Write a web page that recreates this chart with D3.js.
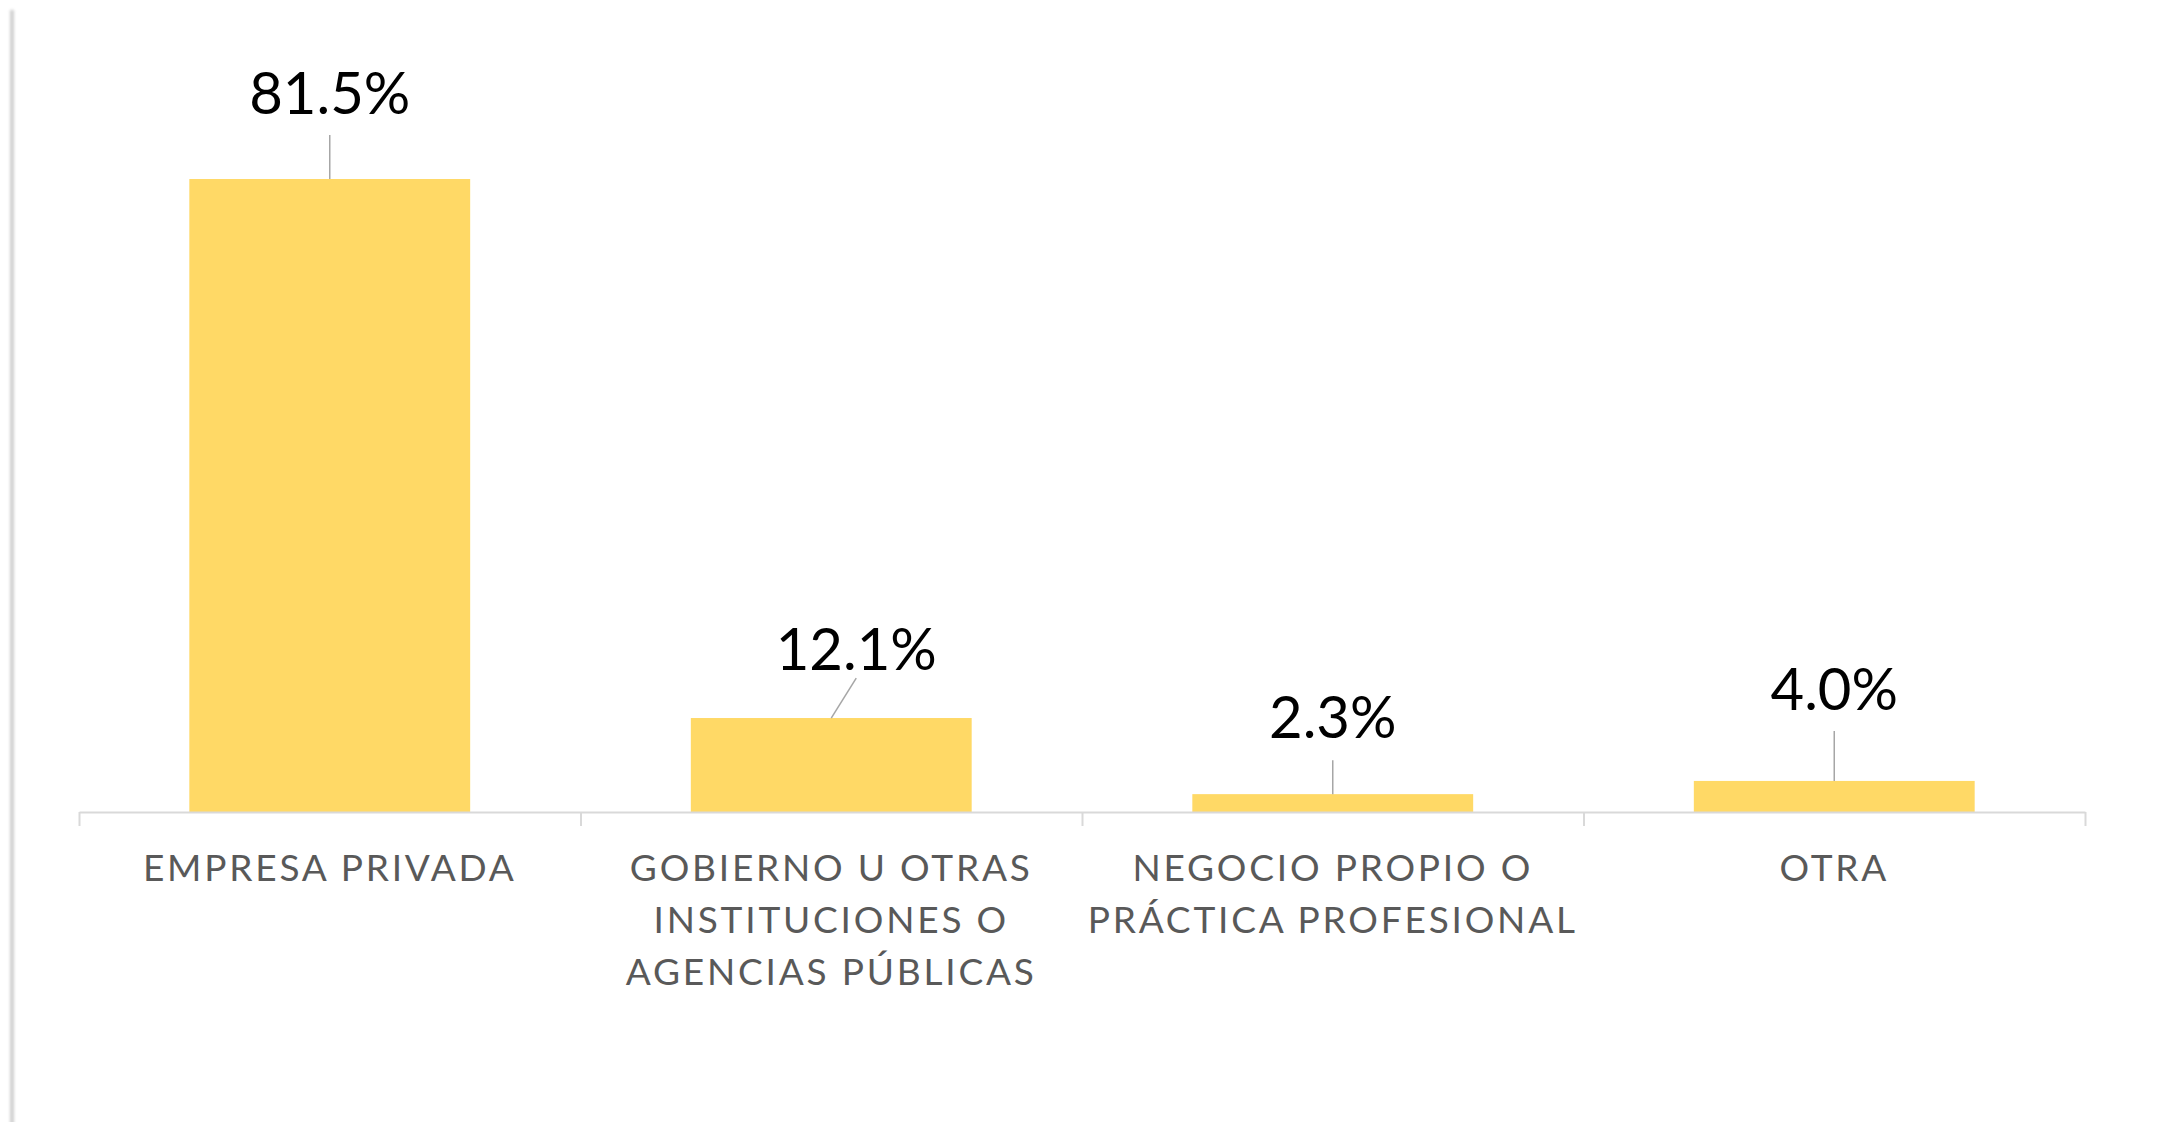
<!DOCTYPE html>
<html>
<head>
<meta charset="utf-8">
<script src="https://cdn.jsdelivr.net/npm/d3@7"></script>
<style>
  body { margin: 0; background: #fff; }
  svg { display: block; font-family: Lato, "Open Sans", sans-serif; }
</style>
</head>
<body>
<div id="container"></div>
<script>
/* DATA */
const categories = [
  "EMPRESA PRIVADA",
  "GOBIERNO U OTRAS\nINSTITUCIONES O\nAGENCIAS PÚBLICAS",
  "NEGOCIO PROPIO O\nPRÁCTICA PROFESIONAL",
  "OTRA"
]
const values = [81.5, 12.1, 2.3, 4.0]
const valueLabels = ["81.5%", "12.1%", "2.3%", "4.0%"]

/* CONSTANTS AND GLOBALS */
const width = 2167,
  height = 1122,
  margin = { top: 113, bottom: 310, left: 79, right: 82 }

// label placement (dx, lift above bar top, in px) - moved by hand in the original
const labelOffsets = [
  { dx: 0, lift: 65, gap: 21 },
  { dx: 25, lift: 48, gap: 8 },
  { dx: 0, lift: 56, gap: 22 },
  { dx: 0, lift: 71, gap: 21 }
]

const data = categories.map((c, i) => ({ cat: c, value: values[i], label: valueLabels[i], off: labelOffsets[i] }))

// SCALES
const xScale = d3.scaleBand()
  .domain(categories)
  .range([margin.left, width - margin.right])
  .paddingInner(0.44)
  .paddingOuter(0.22)

const xEdge = d3.scaleLinear()
  .domain([0, categories.length])
  .range([margin.left, width - margin.right])

const yScale = d3.scaleLinear()
  .domain([0, 90])
  .range([height - margin.bottom, margin.top])

// CREATE SVG ELEMENT
const svg = d3.select("#container")
  .append("svg")
  .attr("width", width)
  .attr("height", height)

// soft left edge shadow
const defs = svg.append("defs")
defs.append("filter").attr("id", "blur")
  .attr("x", "-200%").attr("width", "500%")
  .append("feGaussianBlur").attr("stdDeviation", 1.5)

svg.append("rect")
  .attr("x", 10).attr("y", 10)
  .attr("width", 4).attr("height", height)
  .attr("fill", "#cfcfcf")
  .attr("filter", "url(#blur)")

// BARS
svg.selectAll("rect.bar")
  .data(data)
  .join("rect")
  .attr("class", "bar")
  .attr("x", d => xScale(d.cat))
  .attr("y", d => yScale(d.value))
  .attr("width", xScale.bandwidth())
  .attr("height", d => yScale(0) - yScale(d.value))
  .attr("fill", "#ffd966")

// AXIS
const xAxis = d3.axisBottom(xEdge)
  .tickValues(d3.range(categories.length + 1))
  .tickFormat("")
  .tickSizeOuter(0)
  .tickSizeInner(14)

const xAxisGroup = svg.append("g")
  .attr("class", "xAxis")
  .attr("transform", `translate(0, ${yScale(0)})`)
  .call(xAxis)

xAxisGroup.select(".domain").attr("stroke", "#d9d9d9").attr("stroke-width", 2)
xAxisGroup.selectAll(".tick line").attr("stroke", "#d9d9d9").attr("stroke-width", 2)

// CATEGORY LABELS
const catText = svg.append("g")
  .selectAll("text")
  .data(data)
  .join("text")
  .attr("text-anchor", "middle")
  .attr("x", d => xScale(d.cat) + xScale.bandwidth() / 2)
  .attr("y", yScale(0) + 69)
  .style("font-size", "37px")
  .style("letter-spacing", "2.8px")
  .attr("fill", "#595959")

catText.each(function (d) {
  const t = d3.select(this)
  d.cat.split("\n").forEach((line, i) => {
    t.append("tspan")
      .attr("x", xScale(d.cat) + xScale.bandwidth() / 2)
      .attr("dy", i === 0 ? 0 : 52)
      .text(line)
  })
})

// LEADER LINES
svg.append("g")
  .selectAll("line")
  .data(data)
  .join("line")
  .attr("x1", d => xScale(d.cat) + xScale.bandwidth() / 2)
  .attr("y1", d => yScale(d.value))
  .attr("x2", d => xScale(d.cat) + xScale.bandwidth() / 2 + d.off.dx)
  .attr("y2", d => yScale(d.value) - d.off.lift + d.off.gap)
  .attr("stroke", "#a6a6a6")
  .attr("stroke-width", 1.5)

// VALUE LABELS
svg.append("g")
  .selectAll("text")
  .data(data)
  .join("text")
  .attr("text-anchor", "middle")
  .attr("x", d => xScale(d.cat) + xScale.bandwidth() / 2 + d.off.dx)
  .attr("y", d => yScale(d.value) - d.off.lift)
  .style("font-size", "58px")
  .attr("fill", "#000")
  .text(d => d.label)
</script>
</body>
</html>
